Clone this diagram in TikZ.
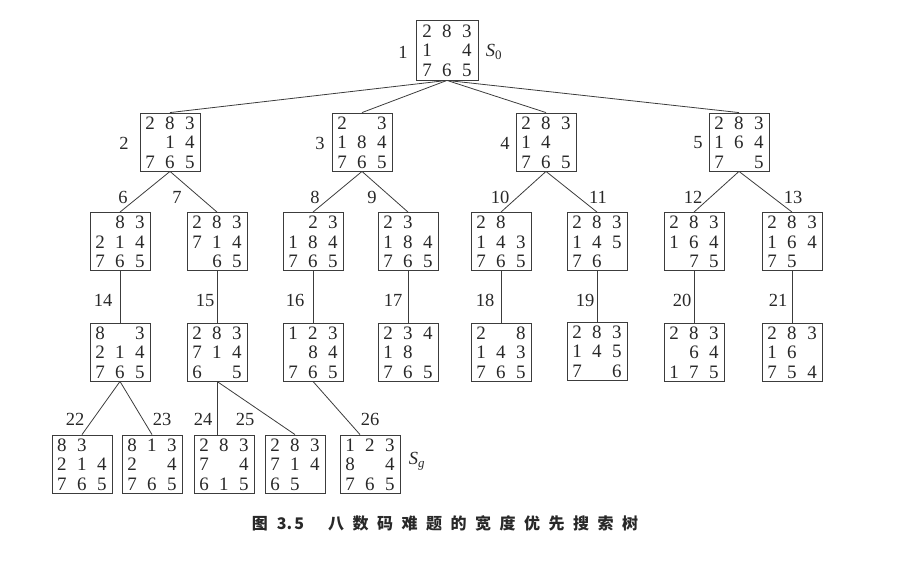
\documentclass[tikz,border=0pt]{standalone}
\usepackage{fontspec}
\setmainfont{Liberation Serif}
\newfontfamily\cjk{Noto Sans CJK SC}
\definecolor{ink}{RGB}{40,40,40}
\definecolor{lin}{RGB}{60,60,60}
\newcommand\pzc[1]{\makebox[20pt]{#1}}
\newcommand\pz[9]{\raisebox{12.5pt}[0pt][0pt]{\parbox[t]{60pt}{%
  \pzc{#1}\pzc{#2}\pzc{#3}\\\pzc{#4}\pzc{#5}\pzc{#6}\\\pzc{#7}\pzc{#8}\pzc{#9}}}}
\begin{document}
\begin{tikzpicture}[x=1pt,y=-1pt,
  puz/.style={draw=lin,line width=0.85pt,minimum width=60pt,minimum height=58pt,inner sep=0pt,
    font=\fontsize{19}{19.5}\selectfont,text=ink},
  lab/.style={inner sep=0pt,font=\fontsize{18.5}{20}\selectfont,text=ink},
  edge/.style={draw=lin,line width=0.8pt}]
\useasboundingbox (0,0) rectangle (906,561);
% level 1
\node[puz,minimum width=62pt,minimum height=60pt] (n1) at (447,50) {\pz 283{1}{}4765};
% level 2
\node[puz] (n2) at (170,142) {\pz 283{}14765};
\node[puz] (n3) at (362,142) {\pz 2{}3184765};
\node[puz] (n4) at (546,142) {\pz 28314{}765};
\node[puz] (n5) at (739,142) {\pz 2831647{}5};
% level 3
\node[puz] (n6) at (120,241.5) {\pz {}83214765};
\node[puz] (n7) at (217,241.5) {\pz 283714{}65};
\node[puz] (n8) at (313,241.5) {\pz {}23184765};
\node[puz] (n9) at (408,241.5) {\pz 23{}184765};
\node[puz] (n10) at (501,241.5) {\pz 28{}143765};
\node[puz] (n11) at (597,241.5) {\pz 28314576{}};
\node[puz] (n12) at (694,241.5) {\pz 283164{}75};
\node[puz] (n13) at (792,241.5) {\pz 28316475{}};
% level 4
\node[puz] (n14) at (120,352) {\pz 8{}3214765};
\node[puz] (n15) at (217,352) {\pz 2837146{}5};
\node[puz] (n16) at (313,352) {\pz 123{}84765};
\node[puz] (n17) at (408,352) {\pz 23418{}765};
\node[puz] (n18) at (501,352) {\pz 2{}8143765};
\node[puz] (n19) at (597,351) {\pz 2831457{}6};
\node[puz] (n20) at (694,352) {\pz 283{}64175};
\node[puz] (n21) at (792,352) {\pz 28316{}754};
% level 5
\node[puz] (n22) at (82,464) {\pz 83{}214765};
\node[puz] (n23) at (152,464) {\pz 8132{}4765};
\node[puz] (n24) at (224,464) {\pz 2837{}4615};
\node[puz] (n25) at (295,464) {\pz 28371465{}};
\node[puz] (n26) at (370,464) {\pz 1238{}4765};
% edges
\foreach \c in {n2,n3,n4,n5} \draw[edge] (n1.south) -- (\c.north);
\draw[edge] (n2.south) -- (n6.north);
\draw[edge] (n2.south) -- (n7.north);
\draw[edge] (n3.south) -- (n8.north);
\draw[edge] (n3.south) -- (n9.north);
\draw[edge] (n4.south) -- (n10.north);
\draw[edge] (n4.south) -- (n11.north);
\draw[edge] (n5.south) -- (n12.north);
\draw[edge] (n5.south) -- (n13.north);
\draw[edge] (n6.south) -- (n14.north);
\draw[edge] (n7.south) -- (n15.north);
\draw[edge] (n8.south) -- (n16.north);
\draw[edge] (n9.south) -- (n17.north);
\draw[edge] (n10.south) -- (n18.north);
\draw[edge] (n11.south) -- (n19.north);
\draw[edge] (n12.south) -- (n20.north);
\draw[edge] (n13.south) -- (n21.north);
\draw[edge] (n14.south) -- (n22.north);
\draw[edge] (n14.south) -- (n23.north);
\draw[edge] (n15.south) -- (n15.south |- n24.north);
\draw[edge] (n15.south) -- (n25.north);
\draw[edge] (n16.south) -- ([xshift=-10pt]n26.north);
% labels
\node[lab] (l1) at (403,52) {1};
\node[lab] (s0) at (494,52) {\textit{S}\textsubscript{0}};
\node[lab] (l2) at (124,143) {2};
\node[lab] (l3) at (320,143) {3};
\node[lab] (l4) at (505,143) {4};
\node[lab] (l5) at (698,143) {5};
\node[lab] (l6) at (123,197) {6};
\node[lab] (l7) at (177,197) {7};
\node[lab] (l8) at (315,197) {8};
\node[lab] (l9) at (372,197) {9};
\node[lab] (l10) at (500,197) {10};
\node[lab] (l11) at (598,197) {11};
\node[lab] (l12) at (693,197) {12};
\node[lab] (l13) at (793,197) {13};
\node[lab] (l14) at (103,300) {14};
\node[lab] (l15) at (205,300) {15};
\node[lab] (l16) at (295,300) {16};
\node[lab] (l17) at (393,300) {17};
\node[lab] (l18) at (485,300) {18};
\node[lab] (l19) at (585,300) {19};
\node[lab] (l20) at (682,300) {20};
\node[lab] (l21) at (778,300) {21};
\node[lab] (l22) at (75,419) {22};
\node[lab] (l23) at (162,419) {23};
\node[lab] (l24) at (203,419) {24};
\node[lab] (l25) at (245,419) {25};
\node[lab] (l26) at (370,419) {26};
\node[lab] (sg) at (417,461) {\textit{S}\textsubscript{\textit{g}}};
% caption
\node[inner sep=0pt,text=ink,font=\cjk\bfseries\fontsize{16}{18}\selectfont] (cap) at (445,523)
  {图\hspace{9pt}3.\hspace{2pt}5\hspace{24pt}八\hspace{8.5pt}数\hspace{8.5pt}码\hspace{8.5pt}难\hspace{8.5pt}题\hspace{8.5pt}的\hspace{8.5pt}宽\hspace{8.5pt}度\hspace{8.5pt}优\hspace{8.5pt}先\hspace{8.5pt}搜\hspace{8.5pt}索\hspace{8.5pt}树};
\end{tikzpicture}
\end{document}
